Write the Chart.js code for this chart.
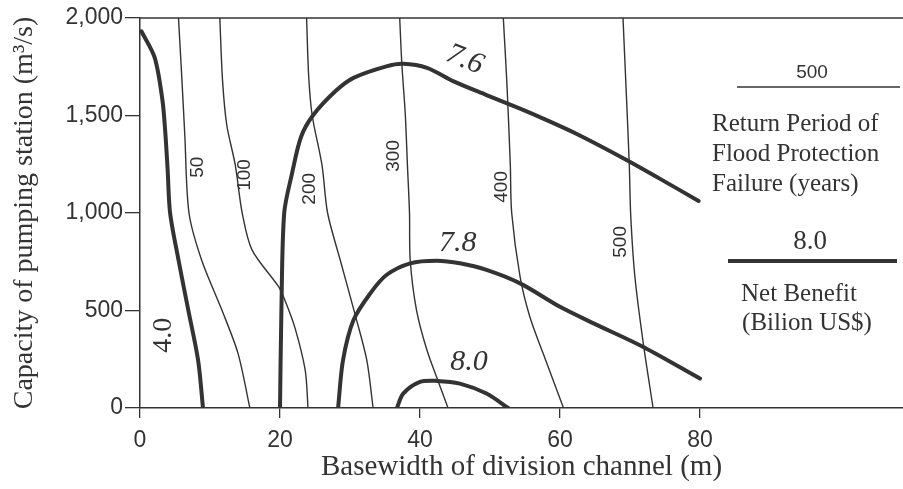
<!DOCTYPE html>
<html>
<head>
<meta charset="utf-8">
<script src="https://cdn.jsdelivr.net/npm/chart.js@4.4.0/dist/chart.umd.min.js"></script>
<style>
  html, body { margin: 0; padding: 0; background: #fff; }
  #wrap { width: 903px; height: 489px; position: relative; }
</style>
</head>
<body>
<div id="wrap"><canvas id="contourChart"></canvas></div>
<script>
// axis ticks
const xTicks = [0, 20, 40, 60, 80]
const yTicks = [0, 500, 1000, 1500, 2000]

// return period of flood protection failure (years), [basewidth m, capacity m3/s]
const rp50 = [[5.5, 2000], [6.0, 1675], [6.4, 1400], [7.0, 1000], [8.8, 759], [11.7, 502], [14.0, 280], [15.7, 0]]
const rp100 = [[11.4, 2000], [11.8, 1675], [12.4, 1450], [13.6, 1248], [14.6, 1000], [16.0, 811], [19.8, 622], [20.7, 553], [22.1, 416], [23.6, 194], [24.0, 0]]
const rp200 = [[23.8, 2000], [24.1, 1700], [24.6, 1500], [26.0, 1245], [26.8, 1000], [28.6, 759], [30.8, 470], [32.4, 245], [33.3, 0]]
const rp300 = [[37.1, 2000], [37.4, 1768], [37.9, 1505], [38.2, 1248], [38.5, 1000], [38.6, 759], [39.5, 502], [41.0, 296], [42.9, 108], [44.0, 0]]
const rp400 = [[51.9, 2000], [52.4, 1675], [52.9, 1248], [53.1, 1000], [54.3, 673], [55.7, 467], [57.6, 279], [60.5, 0]]
const rp500 = [[69.0, 2000], [69.5, 1590], [69.9, 1246], [70.1, 990], [70.7, 673], [71.9, 331], [73.3, 0]]

// net benefit (billion US$)
const nb40 = [[0.2, 1932], [2.1, 1797], [3.2, 1580], [3.6, 1420], [3.95, 1220], [4.3, 1000], [5.5, 759], [6.9, 502], [8.3, 245], [9.0, 0]]
const nb76 = [[20.0, 0], [20.2, 500], [20.6, 1000], [21.7, 1200], [23.0, 1390], [24.7, 1500], [27.9, 1624], [30.5, 1693], [35.2, 1752], [37.6, 1765], [41.0, 1744], [44.8, 1675], [49.5, 1605], [54.3, 1535], [57.6, 1484], [62.4, 1405], [69.5, 1272], [74.3, 1175], [79.8, 1062]]
const nb78 = [[28.3, 0], [29.0, 245], [30.5, 451], [32.9, 588], [35.2, 682], [38.6, 742], [42.4, 755], [45.7, 742], [49.5, 708], [54.3, 639], [60.0, 519], [64.8, 434], [71.9, 313], [80.0, 151]]
const nb80 = [[36.7, 0], [37.6, 74], [40.0, 134], [42.4, 139], [45.7, 125], [49.5, 74], [52.6, 0]]

// contour labels: text, x, y
const rpLabels = [['50', 8.3, 1235], ['100', 14.9, 1195], ['200', 24.3, 1124], ['300', 36.2, 1293], ['400', 51.7, 1134], ['500', 68.7, 852]]
const nbLabels = [['7.6', 46.4, 1786], ['7.8', 45.4, 846], ['8.0', 47.0, 235]]

const ink = '#333'
const sans = 'Liberation Sans, Arial, sans-serif'
const serif = 'Liberation Serif, Times New Roman, serif'

function contour(points, width) {
  return {
    data: points.map(([x, y]) => ({ x, y })),
    showLine: true,
    borderColor: ink,
    borderWidth: width,
    borderCapStyle: 'round',
    pointRadius: 0,
    tension: 0.3,
    fill: false
  }
}

const notes = {
  id: 'notes',
  afterDatasetsDraw(chart) {
    const { ctx, chartArea, scales } = chart
    const px = v => scales.x.getPixelForValue(v)
    const py = v => scales.y.getPixelForValue(v)
    ctx.save()
    ctx.strokeStyle = ink
    ctx.fillStyle = ink

    // top frame line
    ctx.lineWidth = 1.5
    ctx.beginPath()
    ctx.moveTo(chartArea.left, chartArea.top)
    ctx.lineTo(chart.width, chartArea.top)
    ctx.stroke()

    // return period labels
    ctx.textAlign = 'center'
    ctx.textBaseline = 'middle'
    ctx.font = '19px ' + sans
    rpLabels.forEach(([t, x, y]) => {
      ctx.save()
      ctx.translate(px(x), py(y))
      ctx.rotate(-Math.PI / 2)
      ctx.fillText(t, 0, 0)
      ctx.restore()
    })

    // net benefit labels
    ctx.font = 'italic 30px ' + serif
    nbLabels.forEach(([t, x, y], i) => {
      ctx.save()
      ctx.translate(px(x), py(y))
      if (i === 0) ctx.rotate(0.38)
      ctx.fillText(t, 0, 0)
      ctx.restore()
    })
    ctx.save()
    ctx.font = '28px ' + serif
    ctx.translate(px(3.4), py(373))
    ctx.rotate(-Math.PI / 2)
    ctx.fillText('4.0', 0, 0)
    ctx.restore()

    // key on the right
    ctx.textBaseline = 'alphabetic'
    ctx.font = '19px ' + sans
    ctx.fillText('500', 812, 78)
    ctx.lineWidth = 1.5
    ctx.beginPath()
    ctx.moveTo(737, 87)
    ctx.lineTo(900, 87)
    ctx.stroke()
    ctx.textAlign = 'left'
    ctx.font = '25px ' + serif
    ctx.fillText('Return Period of', 712, 131)
    ctx.fillText('Flood Protection', 712, 161)
    ctx.fillText('Failure (years)', 712, 191)
    ctx.textAlign = 'center'
    ctx.font = '27px ' + serif
    ctx.fillText('8.0', 810, 249)
    ctx.lineWidth = 4
    ctx.beginPath()
    ctx.moveTo(728, 261)
    ctx.lineTo(897, 261)
    ctx.stroke()
    ctx.font = '25px ' + serif
    ctx.fillText('Net Benefit', 799, 301)
    ctx.fillText('(Bilion US$)', 807, 330)
    ctx.restore()
  }
}

new Chart(document.getElementById('contourChart'), {
  type: 'scatter',
  data: {
    datasets: [
      contour(rp50, 1.4), contour(rp100, 1.4), contour(rp200, 1.4),
      contour(rp300, 1.4), contour(rp400, 1.4), contour(rp500, 1.4),
      contour(nb40, 4), contour(nb76, 4), contour(nb78, 4), contour(nb80, 4)
    ]
  },
  options: {
    responsive: true,
    maintainAspectRatio: false,
    animation: false,
    layout: { padding: { top: 18, right: 0, left: 0, bottom: 0 } },
    plugins: { legend: { display: false }, tooltip: { enabled: false } },
    scales: {
      x: {
        type: 'linear',
        min: 0,
        max: 109,
        afterBuildTicks: s => { s.ticks = xTicks.map(v => ({ value: v })) },
        afterFit: s => { s.height = 81 },
        ticks: { color: ink, font: { family: sans, size: 23 }, padding: 9, maxRotation: 0 },
        grid: { drawOnChartArea: false, tickLength: 10, color: ink, lineWidth: 1.3 },
        border: { color: ink, width: 1.5 },
        title: {
          display: true,
          text: 'Basewidth of division channel (m)',
          color: ink,
          font: { family: serif, size: 29 },
          padding: { top: 0, bottom: 4 }
        }
      },
      y: {
        min: 0,
        max: 2000,
        afterBuildTicks: s => { s.ticks = yTicks.map(v => ({ value: v })) },
        afterFit: s => { s.width = 140 },
        ticks: {
          color: ink,
          font: { family: sans, size: 23 },
          padding: 2,
          callback: v => v.toLocaleString('en-US')
        },
        grid: { drawOnChartArea: false, tickLength: 15, color: ink, lineWidth: 1.3 },
        border: { color: ink, width: 1.5 },
        title: {
          display: true,
          text: 'Capacity of pumping station (m³/s)',
          color: ink,
          font: { family: serif, size: 28 },
          padding: { top: 8, bottom: 0 }
        }
      }
    }
  },
  plugins: [notes]
})
</script>
</body>
</html>
